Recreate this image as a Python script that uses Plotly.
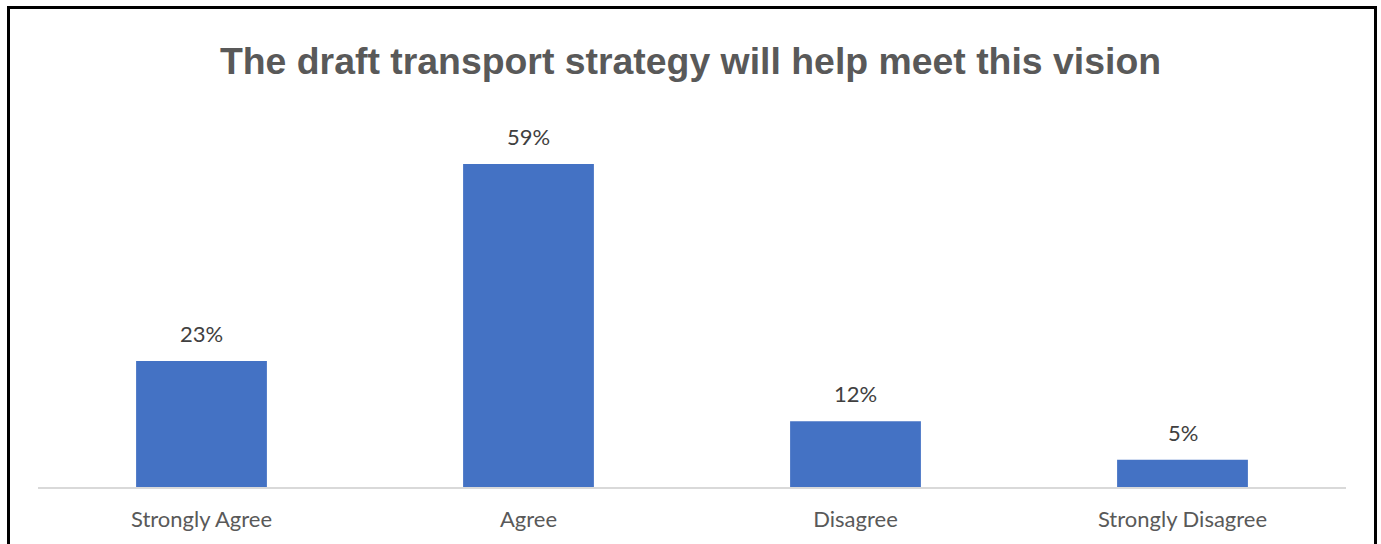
import plotly.graph_objects as go

categories = ["Strongly Agree", "Agree", "Disagree", "Strongly Disagree"]
shares = [0.23, 0.59, 0.12, 0.05]
labels = ["23%", "59%", "12%", "5%"]

W, H = 1381, 544
ml, mr, mt, mb = 38, 35, 106, 57
plot_w = W - ml - mr
plot_h = H - mt - mb
y_max = 0.696

fig = go.Figure(
    go.Bar(
        x=categories,
        y=shares,
        marker=dict(color="#4472C4", line=dict(width=0)),
        hoverinfo="skip",
    )
)

for cat, val, lab in zip(categories, shares, labels):
    fig.add_annotation(
        x=cat, y=val, text=lab, showarrow=False,
        yanchor="bottom", yshift=12,
        font=dict(family="Lato, Open Sans, sans-serif", size=22, color="#404040"),
    )

# outer frame, placed in plot-area fractions so it sits around the whole page
def px_x(p):
    return (p - ml) / plot_w

def px_y(p):
    return (H - mb - p) / plot_h

fig.add_shape(
    type="rect", xref="paper", yref="paper",
    x0=px_x(8.5), x1=px_x(1375.5), y0=px_y(560), y1=px_y(7.5),
    line=dict(color="black", width=3), fillcolor="rgba(0,0,0,0)",
)

fig.update_layout(
    width=W, height=H,
    margin=dict(l=ml, r=mr, t=mt, b=mb, autoexpand=False),
    paper_bgcolor="white", plot_bgcolor="white",
    bargap=0.6,
    showlegend=False,
    title=dict(
        text="<b>The draft transport strategy will help meet this vision</b>",
        x=0.5, xanchor="center", xref="container",
        y=1 - 61 / H, yanchor="middle", yref="container",
        font=dict(family="Liberation Sans, Arial, sans-serif", size=37.4, color="#595959"),
    ),
    xaxis=dict(
        showline=True, linecolor="#d9d9d9", linewidth=1.5,
        ticks="outside", ticklen=12, tickcolor="rgba(0,0,0,0)",
        tickfont=dict(family="Lato, Open Sans, sans-serif", size=22, color="#595959"),
        showgrid=False, zeroline=False, fixedrange=True, automargin=False,
    ),
    yaxis=dict(
        range=[0, y_max], visible=False, showgrid=False, zeroline=False,
        automargin=False,
    ),
)

fig.write_html("out.html")
